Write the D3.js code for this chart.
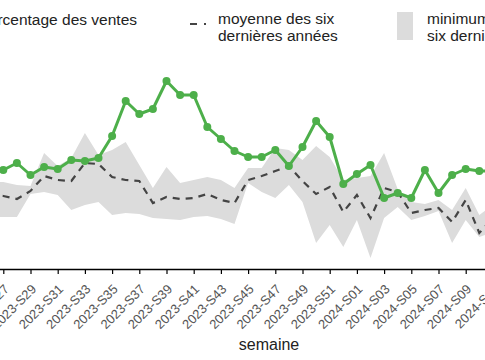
<!DOCTYPE html>
<html>
<head>
<meta charset="utf-8">
<script src="https://cdn.jsdelivr.net/npm/d3@7"></script>
<style>
  html, body { margin: 0; padding: 0; background: #fff; overflow: hidden; }
  svg { display: block; font-family: "Liberation Sans", Arial, sans-serif; }
</style>
</head>
<body>
<svg id="chart" width="485" height="360"></svg>
<script>
// Weeks (2023-S26 .. 2024-S11)
const weeks = [
  '2023-S26', '2023-S27', '2023-S28', '2023-S29', '2023-S30', '2023-S31', '2023-S32',
  '2023-S33', '2023-S34', '2023-S35', '2023-S36', '2023-S37', '2023-S38', '2023-S39',
  '2023-S40', '2023-S41', '2023-S42', '2023-S43', '2023-S44', '2023-S45', '2023-S46',
  '2023-S47', '2023-S48', '2023-S49', '2023-S50', '2023-S51', '2023-S52', '2024-S01',
  '2024-S02', '2024-S03', '2024-S04', '2024-S05', '2024-S06', '2024-S07', '2024-S08',
  '2024-S09', '2024-S10', '2024-S11',
];

// pourcentage des ventes (current season)
const ventes = [
  4.85, 4.95, 5.30, 4.70, 5.10, 5.00, 5.45, 5.40, 5.55, 6.65,
  8.40, 7.75, 8.00, 9.40, 8.70, 8.70, 7.10, 6.50, 5.90, 5.60,
  5.60, 5.95, 5.15, 6.10, 7.40, 6.60, 4.25, 4.75, 5.20, 3.55,
  3.80, 3.55, 4.95, 3.80, 4.70, 5.00, 4.90, 4.90,
];

// moyenne des six dernières années
const moyenne = [
  3.70, 3.65, 3.50, 3.90, 4.65, 4.45, 4.40, 5.30, 5.25, 4.60,
  4.45, 4.40, 3.30, 3.60, 3.50, 3.55, 3.75, 3.45, 3.30, 4.45,
  4.65, 4.90, 5.15, 4.40, 3.75, 4.10, 2.85, 3.70, 2.55, 4.05,
  3.85, 2.80, 2.95, 3.05, 2.35, 3.45, 1.80, 2.55,
];

// minimum et maximum des six dernières années
const minimum = [
  2.60, 2.60, 2.60, 3.75, 3.85, 3.70, 2.95, 3.20, 3.35, 2.70,
  2.80, 2.75, 2.55, 2.50, 2.45, 2.60, 2.65, 2.50, 2.25, 4.30,
  3.85, 3.55, 4.20, 3.35, 1.30, 2.20, 1.10, 2.45, 0.55, 2.55,
  3.10, 2.45, 2.65, 2.90, 1.30, 2.45, 1.60, 1.85,
];
const maximum = [
  4.35, 4.35, 4.20, 4.15, 5.80, 5.15, 5.55, 6.80, 5.70, 5.95,
  6.35, 5.20, 4.05, 5.10, 4.30, 4.45, 4.60, 4.45, 4.05, 5.05,
  5.05, 6.05, 5.95, 5.45, 6.15, 5.60, 4.45, 4.55, 4.65, 5.80,
  4.00, 3.35, 3.25, 3.45, 2.95, 4.05, 2.70, 3.20,
];

// Settings
const green = '#4daf4a';
const band_color = '#dcdcdc';
const mean_color = '#444';
const axis_y = 269;

const svg = d3.select('#chart');

// Scales
const x = d3.scalePoint().domain(weeks).range([-10.3, 492.9]);
const y = d3.scaleLinear().domain([0, 12]).range([axis_y, 29]);

const rows = weeks.map((w, i) => ({
  week: w,
  ventes: ventes[i],
  moyenne: moyenne[i],
  min: minimum[i],
  max: maximum[i],
}));

// Min / max band
svg.append('path')
  .datum(rows)
  .attr('fill', band_color)
  .attr('d', d3.area()
    .x(d => x(d.week))
    .y0(d => y(d.min))
    .y1(d => y(d.max)));

// Six-year mean
svg.append('path')
  .datum(rows)
  .attr('fill', 'none')
  .attr('stroke', mean_color)
  .attr('stroke-width', 2.2)
  .attr('stroke-dasharray', '7,6')
  .attr('d', d3.line().x(d => x(d.week)).y(d => y(d.moyenne)));

// Current sales
svg.append('path')
  .datum(rows)
  .attr('fill', 'none')
  .attr('stroke', green)
  .attr('stroke-width', 3)
  .attr('stroke-linejoin', 'round')
  .attr('d', d3.line().x(d => x(d.week)).y(d => y(d.ventes)));

svg.append('g')
  .selectAll('circle')
  .data(rows)
  .enter()
  .append('circle')
  .attr('cx', d => x(d.week))
  .attr('cy', d => y(d.ventes))
  .attr('r', 4)
  .attr('fill', green);

// X axis, one tick every two weeks
const tick_weeks = weeks.filter(w => +w.slice(-2) % 2 === 1);
const x_axis = svg.append('g')
  .attr('transform', `translate(0,${axis_y})`)
  .call(d3.axisBottom(x).tickValues(tick_weeks).tickSize(5).tickSizeOuter(0));
x_axis.select('.domain').attr('stroke', '#000').attr('stroke-width', 1.5);
x_axis.selectAll('.tick line').attr('stroke', '#000').attr('stroke-width', 1.2);
x_axis.selectAll('.tick text')
  .attr('x', 0)
  .attr('y', 0)
  .attr('dy', 0)
  .attr('transform', 'translate(6,21) rotate(-45)')
  .attr('text-anchor', 'end')
  .attr('fill', '#555')
  .attr('font-size', 13)
  .attr('font-family', '"Liberation Sans", Arial, sans-serif');

svg.append('text')
  .attr('x', 269)
  .attr('y', 350)
  .attr('text-anchor', 'middle')
  .attr('font-size', 16)
  .attr('fill', '#222')
  .text('semaine');

// Legend
const legend = svg.append('g').attr('font-size', 15.5).attr('fill', '#222');

legend.append('line')
  .attr('x1', -40).attr('x2', -10).attr('y1', 19).attr('y2', 19)
  .attr('stroke', green).attr('stroke-width', 3);
legend.append('text')
  .attr('x', 137).attr('y', 25)
  .attr('text-anchor', 'end')
  .text('pourcentage des ventes');

legend.append('line')
  .attr('x1', 190).attr('x2', 206).attr('y1', 24).attr('y2', 24)
  .attr('stroke', mean_color).attr('stroke-width', 2.2)
  .attr('stroke-dasharray', '7,7');
const mean_label = legend.append('text').attr('x', 218).attr('y', 24);
mean_label.append('tspan').attr('x', 218).text('moyenne des six');
mean_label.append('tspan').attr('x', 218).attr('dy', 16.5).text('dernières années');

legend.append('rect')
  .attr('x', 397).attr('y', 12).attr('width', 16).attr('height', 28)
  .attr('fill', band_color);
const band_label = legend.append('text').attr('x', 427).attr('y', 24);
band_label.append('tspan').attr('x', 427).text('minimum et maximum des');
band_label.append('tspan').attr('x', 427).attr('dy', 16.5).text('six dernières années');
</script>
</body>
</html>
